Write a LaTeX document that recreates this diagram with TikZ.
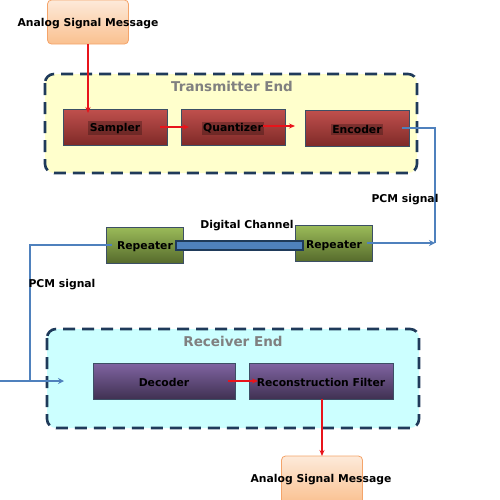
\documentclass[tikz,border=0pt]{standalone}
\usepackage{fontspec}
\setmainfont{DejaVu Sans}
\usetikzlibrary{arrows.meta}
\definecolor{navy}{HTML}{1F3A5A}
\definecolor{txyel}{HTML}{FFFFCC}
\definecolor{rxcyan}{HTML}{CCFFFF}
\definecolor{redtop}{HTML}{C0504D}
\definecolor{redbot}{HTML}{7F2A28}
\definecolor{grntop}{HTML}{9BBB59}
\definecolor{grnbot}{HTML}{566B2C}
\definecolor{purtop}{HTML}{8064A2}
\definecolor{purbot}{HTML}{403152}
\definecolor{orgtop}{HTML}{FDEADA}
\definecolor{orgbot}{HTML}{FAC08F}
\definecolor{orgline}{HTML}{F4A46A}
\definecolor{pcmblue}{HTML}{4F81BD}
\definecolor{sigred}{HTML}{E8141B}
\begin{document}
\begin{tikzpicture}[x=1pt,y=-1pt,
  lbl/.style={font=\bfseries\fontsize{10.8}{12}\selectfont, text=black, yshift=-1.2pt},
  grouplbl/.style={font=\bfseries\fontsize{13.5}{15}\selectfont, text=gray},
  groupbox/.style={draw=navy, line width=2.6pt, dash pattern=on 12pt off 7pt, rounded corners=9pt},
  blockbox/.style={draw=navy!70!gray, line width=0.7pt, minimum height=36pt, inner sep=0pt},
  redblock/.style={blockbox, top color=redtop, bottom color=redbot},
  grnblock/.style={blockbox, top color=grntop, bottom color=grnbot, minimum height=36pt, minimum width=77pt},
  purblock/.style={blockbox, top color=purtop, bottom color=purbot},
  hl/.style={lbl, fill=black, fill opacity=0.25, text opacity=1, inner sep=1.5pt},
  analog/.style={draw=orgline, line width=0.8pt, rounded corners=4pt, top color=orgtop, bottom color=orgbot, minimum width=81pt, minimum height=44pt, inner sep=0pt},
  redarrow/.style={draw=sigred, line width=1.5pt, -{Stealth[length=6pt,width=5pt]}},
  blueline/.style={draw=pcmblue, line width=2.2pt},
  bluearrow/.style={draw=pcmblue, line width=2.2pt, -{Stealth[length=6pt,width=6pt]}}
]
\useasboundingbox (0,0) rectangle (500,499);
% group boxes
\draw[groupbox, fill=txyel] (45,74) rectangle (417,173);
\draw[groupbox, fill=rxcyan] (47,329) rectangle (419,428);
\node[grouplbl] (txl) at (232,86) {Transmitter End};
\node[grouplbl] (rxl) at (233,341) {Receiver End};
% analog boxes
\node[analog] (ain) at (88,22) {};
\node[lbl] (aint) at (88,22) {Analog Signal Message};
\node[analog, minimum height=48pt] (aout) at (322,480) {};
\node[lbl] (aoutt) at (321,478) {Analog Signal Message};
% transmitter blocks
\node[redblock, minimum width=104pt] (samp) at (115,127) {};
\node[hl] at (115,127) {Sampler};
\node[redblock, minimum width=104pt] (quant) at (233,127) {};
\node[hl] at (233,127) {Quantizer};
\node[redblock, minimum width=104pt] (enc) at (357,128) {};
\node[hl] at (357,128) {Encoder};
% receiver blocks
\node[purblock, minimum width=142pt] (dec) at (164,381) {};
\node[lbl] at (164,381) {Decoder};
\node[purblock, minimum width=144pt] (rec) at (321,381) {};
\node[lbl] at (321,381) {Reconstruction Filter};
% repeaters
\node[grnblock] (rep1) at (145,245) {};
\node[lbl] (rep1t) at (145,245) {Repeater};
\node[grnblock] (rep2) at (334,243.5) {};
\node[lbl] (rep2t) at (334,244) {Repeater};
% digital channel
\draw[draw=navy, fill=pcmblue, line width=1.6pt] (176,241) rectangle (303,250);
\node[lbl] (dch) at (247,224) {Digital Channel};
% red signal arrows
\coordinate (ainb) at (88,44);
\coordinate (sampt) at (88,113);
\draw[redarrow] (ainb) -- (sampt);
\coordinate (q1) at (160,127);
\coordinate (q2) at (189,127);
\draw[redarrow] (q1) -- (q2);
\coordinate (e1) at (263,126);
\coordinate (e2) at (295,126);
\draw[redarrow] (e1) -- (e2);
\coordinate (d1) at (228,381);
\coordinate (d2) at (258,381);
\draw[redarrow] (d1) -- (d2);
\coordinate (r1) at (322,399);
\coordinate (r2) at (322,456);
\draw[redarrow] (r1) -- (r2);
% PCM lines
\coordinate (encout) at (402,128);
\coordinate (rc) at (435,243);
\draw[blueline] (encout) -- (435,128) -- (rc);
\coordinate (rep2o) at (367,243);
\draw[bluearrow] (rep2o) -- (rc);
\node[lbl] (pcm1) at (405,198) {PCM signal};
\coordinate (rep1o) at (112,245);
\coordinate (lc) at (30,381);
\draw[blueline] (rep1o) -- (30,245) -- (lc);
\coordinate (lin) at (0,381);
\coordinate (lend) at (64,381);
\draw[bluearrow] (lin) -- (lend);
\node[lbl] (pcm2) at (62,283) {PCM signal};
\end{tikzpicture}
\end{document}
